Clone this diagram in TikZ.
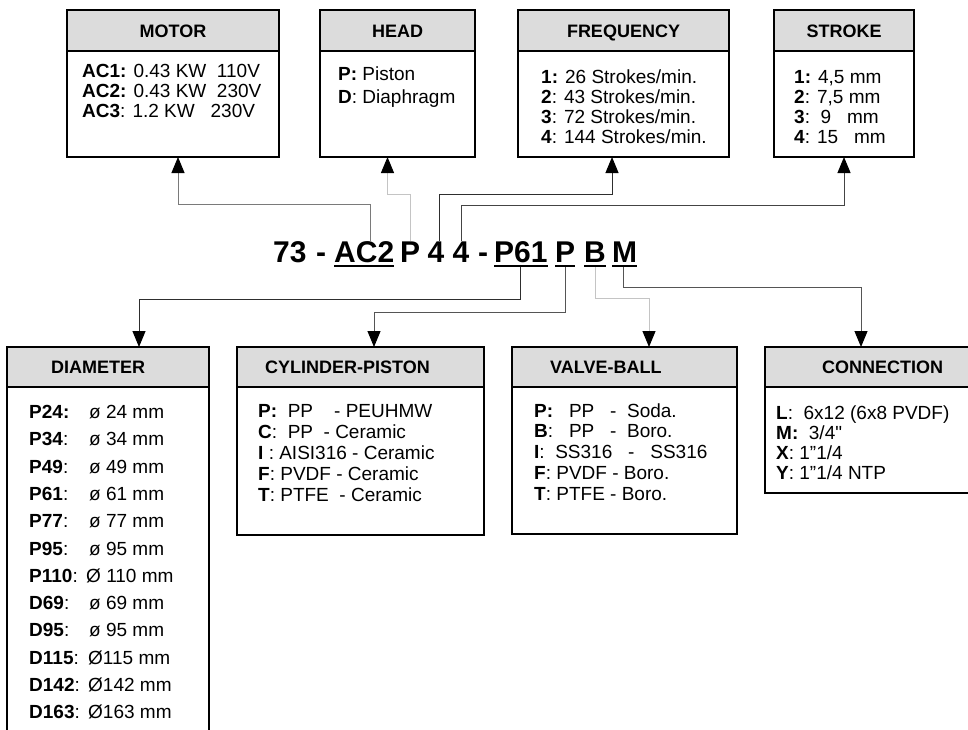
\documentclass[tikz,border=0pt]{standalone}
\usepackage{fontspec}
\setmainfont{Liberation Sans}
\newfontfamily\plainsans{Liberation Sans}
\usetikzlibrary{arrows.meta}
\definecolor{headgray}{HTML}{DCDCDC}
\definecolor{lnA}{HTML}{7A7A7A}
\definecolor{lnB}{HTML}{C4C4C4}
\definecolor{lnC}{HTML}{2E2E2E}
\definecolor{lnD}{HTML}{444444}
\definecolor{lnE}{HTML}{555555}
\newcommand\lstbox[2]{\fontsize{19}{#1}\selectfont\begin{tabular}[t]{@{}l@{}}#2\end{tabular}}
\newcommand\dm[3][60pt]{\makebox[#1][l]{#2}#3}
\begin{document}
\begin{tikzpicture}[x=1pt,y=-1pt,
  bx/.style={draw=black,line width=1.2pt,anchor=north west,inner sep=0pt,outer sep=0pt},
  hd/.style={bx,fill=headgray,text height=13pt,text depth=0pt,font=\fontsize{18}{20}\selectfont\bfseries},
  lbl/.style={inner sep=0pt,anchor=west,text height=13pt,text depth=0pt,font=\fontsize{18}{20}\selectfont\bfseries},
  lst/.style={inner sep=0pt,anchor=base west},
  code/.style={inner sep=0pt,anchor=base west,font=\fontsize{30}{36}\selectfont\bfseries},
  con/.style={line width=1pt,-{Triangle[length=16pt,width=13pt,color=black]}},
  ul/.style={line width=2pt}]
\useasboundingbox (0,0) rectangle (968,729);

% ---------- top boxes ----------
\node[bx,minimum width=212pt,minimum height=147pt] (motor) at (67,10) {};
\node[hd,minimum width=212pt,minimum height=41pt] (motorh) at (67,10) {MOTOR};
\node[lst] (motorl) at (82,77) {\lstbox{20}{\textbf{AC1:} 0.43 KW~~110V\\ \textbf{AC2:} 0.43 KW~~230V\\ \textbf{AC3}: 1.2 KW~~~230V}};

\node[bx,minimum width=155pt,minimum height=147pt] (head) at (320,10) {};
\node[hd,minimum width=155pt,minimum height=41pt] (headh) at (320,10) {HEAD};
\node[lst] (headl) at (338,80) {\lstbox{23}{\textbf{P:} Piston\\ \textbf{D}: Diaphragm}};

\node[bx,minimum width=211pt,minimum height=147pt] (freq) at (518,10) {};
\node[hd,minimum width=211pt,minimum height=41pt] (freqh) at (518,10) {FREQUENCY};
\node[lst] (freql) at (541,83) {\lstbox{20}{\textbf{1:} 26 Strokes/min.\\ \textbf{2}: 43 Strokes/min.\\ \textbf{3}: 72 Strokes/min.\\ \textbf{4}: 144 Strokes/min.}};

\node[bx,minimum width=140pt,minimum height=147pt] (stroke) at (774,10) {};
\node[hd,minimum width=140pt,minimum height=41pt] (strokeh) at (774,10) {STROKE};
\node[lst] (strokel) at (794,83) {\lstbox{20}{\textbf{1:} 4,5 mm\\ \textbf{2}: 7,5 mm\\ \textbf{3}:~~9~~~mm\\ \textbf{4}: 15~~~mm}};

% ---------- code ----------
\node[code] (t73) at (273,262) {73};
\node[code] (d1) at (316,262) {-};
\node[code] (ac2) at (334,262) {AC2};
\node[code] (hp) at (400,262) {P};
\node[code] (fa) at (427.5,262) {4};
\node[code] (sb) at (452.5,262) {4};
\node[code] (d2) at (478,262) {-};
\node[code] (p61) at (494,262) {P61};
\node[code] (cp) at (555,262) {P};
\node[code] (vb) at (584,262) {B};
\node[code] (cm) at (612,262) {M};
\foreach \t in {ac2,p61,cp,vb,cm}
  \draw[ul] ([yshift=-4pt]\t.base west) -- ([yshift=-4pt]\t.base east);

% ---------- bottom boxes ----------
\node[bx,minimum width=202pt,minimum height=400pt] (diam) at (7,347) {};
\node[hd,minimum width=202pt,minimum height=40pt] (diamh) at (7,347) {};
\node[lbl] (diamt) at (51,367) {DIAMETER};
\node[lst] (diaml) at (29,418.5) {\lstbox{27.3}{%
\dm{\textbf{P24:}}{ø 24 mm}\\
\dm{\textbf{P34}:}{ø 34 mm}\\
\dm{\textbf{P49}:}{ø 49 mm}\\
\dm{\textbf{P61}:}{ø 61 mm}\\
\dm{\textbf{P77}:}{ø 77 mm}\\
\dm{\textbf{P95}:}{ø 95 mm}\\
\dm[57pt]{\textbf{P110}:}{Ø 110 mm}\\
\dm{\textbf{D69}:}{ø 69 mm}\\
\dm{\textbf{D95}:}{ø 95 mm}\\
\dm[59pt]{\textbf{D115}:}{Ø115 mm}\\
\dm[59pt]{\textbf{D142}:}{Ø142 mm}\\
\dm[59pt]{\textbf{D163}:}{Ø163 mm}}};

\node[bx,minimum width=247pt,minimum height=188pt] (cyl) at (237,347) {};
\node[hd,minimum width=247pt,minimum height=40pt] (cylh) at (237,347) {};
\node[lbl] (cylt) at (265,367) {CYLINDER-PISTON};
\node[lst] (cyll) at (258,417) {\lstbox{21.2}{\textbf{P:}~~PP~~~~- PEUHMW\\ \textbf{C}:~~PP~~- Ceramic\\ \textbf{I} : AISI316 - Ceramic\\ \textbf{F}: PVDF - Ceramic\\ \textbf{T}: PTFE~~- Ceramic}};

\node[bx,minimum width=225pt,minimum height=187pt] (valve) at (512,347) {};
\node[hd,minimum width=225pt,minimum height=40pt] (valveh) at (512,347) {};
\node[lbl] (valvet) at (550,367) {VALVE-BALL};
\node[lst] (valvel) at (534,417) {\lstbox{20.8}{\textbf{P:}~~~PP~~~-~~Soda.\\ \textbf{B}:~~~PP~~~-~~Boro.\\ \textbf{I}:~~SS316~~~-~~~SS316\\ \textbf{F}: PVDF - Boro.\\ \textbf{T}: PTFE - Boro.}};

\node[bx,minimum width=220pt,minimum height=146pt] (conn) at (765,347) {};
\node[hd,minimum width=220pt,minimum height=40pt] (connh) at (765,347) {};
\node[lbl] (connt) at (822,367) {CONNECTION};
\node[lst] (connl) at (776,419) {\lstbox{20.3}{\textbf{L}:~~6x12 (6x8 PVDF)\\ \textbf{M:}~~3/4{\plainsans"}\\ \textbf{X}: 1”1/4\\ \textbf{Y}: 1”1/4 NTP}};

% ---------- connectors ----------
\coordinate (b1) at (178,204);
\coordinate (b2) at (387.5,194);
\coordinate (b3) at (612,194);
\coordinate (b4) at (844,205);
\draw[con,draw=lnA] ([xshift=6pt]ac2.north) |- (b1) -- (motor.south -| b1);
\draw[con,draw=lnB] (hp.north) |- (b2) -- (head.south -| b2);
\draw[con,draw=lnC] ([xshift=3pt]fa.north) |- (b3) -- (freq.south -| b3);
\draw[con,draw=lnD] (sb.north) |- (b4) -- (stroke.south -| b4);

\coordinate (c1) at (139,299);
\coordinate (c2) at (374,312);
\coordinate (c3) at (649,298);
\coordinate (c4) at (861,287);
\draw[con,draw=lnC] ([yshift=-5pt]p61.base) |- (c1) -- (diam.north -| c1);
\draw[con,draw=lnE] ([yshift=-5pt]cp.base) |- (c2) -- (cyl.north -| c2);
\draw[con,draw=lnB] ([yshift=-5pt]vb.base) |- (c3) -- (valve.north -| c3);
\draw[con,draw=lnE] ([yshift=-5pt,xshift=-1pt]cm.base) |- (c4) -- (conn.north -| c4);
\end{tikzpicture}
\end{document}
